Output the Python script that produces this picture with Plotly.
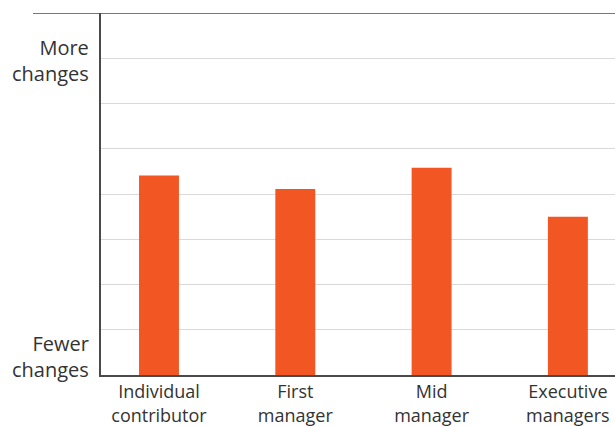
import plotly.graph_objects as go

categories = ["Individual<br>contributor", "First<br>manager", "Mid<br>manager", "Executive<br>managers"]
values = [4.41, 4.11, 4.58, 3.50]
scale_labels = ["Fewer<br>changes", "More<br>changes"]
scale_positions = [0.42, 6.95]

BAR = "#F15623"
TEXT = "#333333"
AXIS = "#4A4A4A"
GRID = "#D9D9D9"
FONT = "Open Sans"

fig = go.Figure(go.Bar(x=list(range(len(categories))), y=values,
                       marker=dict(color=BAR, line=dict(width=0)), width=0.293))

fig.update_layout(
    width=615, height=426,
    margin=dict(l=101, r=0, t=12.5, b=51),
    paper_bgcolor="white", plot_bgcolor="white",
    font=dict(family=FONT, size=18, color=TEXT),
    showlegend=False,
    xaxis=dict(range=[-0.4255, 3.3456], tickvals=list(range(len(categories))),
               ticktext=categories, showgrid=False, showline=True, linecolor=AXIS,
               linewidth=1.5, ticks="", zeroline=False, ticklabelstandoff=0,
               tickfont=dict(family=FONT, size=18, color=TEXT)),
    yaxis=dict(range=[0, 8], dtick=1, showticklabels=False, showgrid=True, gridcolor=GRID,
               gridwidth=1, showline=True, linecolor=AXIS, linewidth=1.5, zeroline=False, ticks=""),
)

fig.add_shape(type="line", xref="paper", yref="y", x0=(33 - 101) / 514, x1=1, y0=8, y1=8,
              line=dict(color=AXIS, width=1.5))

for txt, pos in zip(scale_labels, scale_positions):
    fig.add_annotation(text=txt, xref="paper", yref="y", x=0, y=pos, xanchor="right",
                       yanchor="middle", xshift=-10, showarrow=False, align="right",
                       font=dict(family=FONT, size=20, color=TEXT))

fig.write_html("out.html")
